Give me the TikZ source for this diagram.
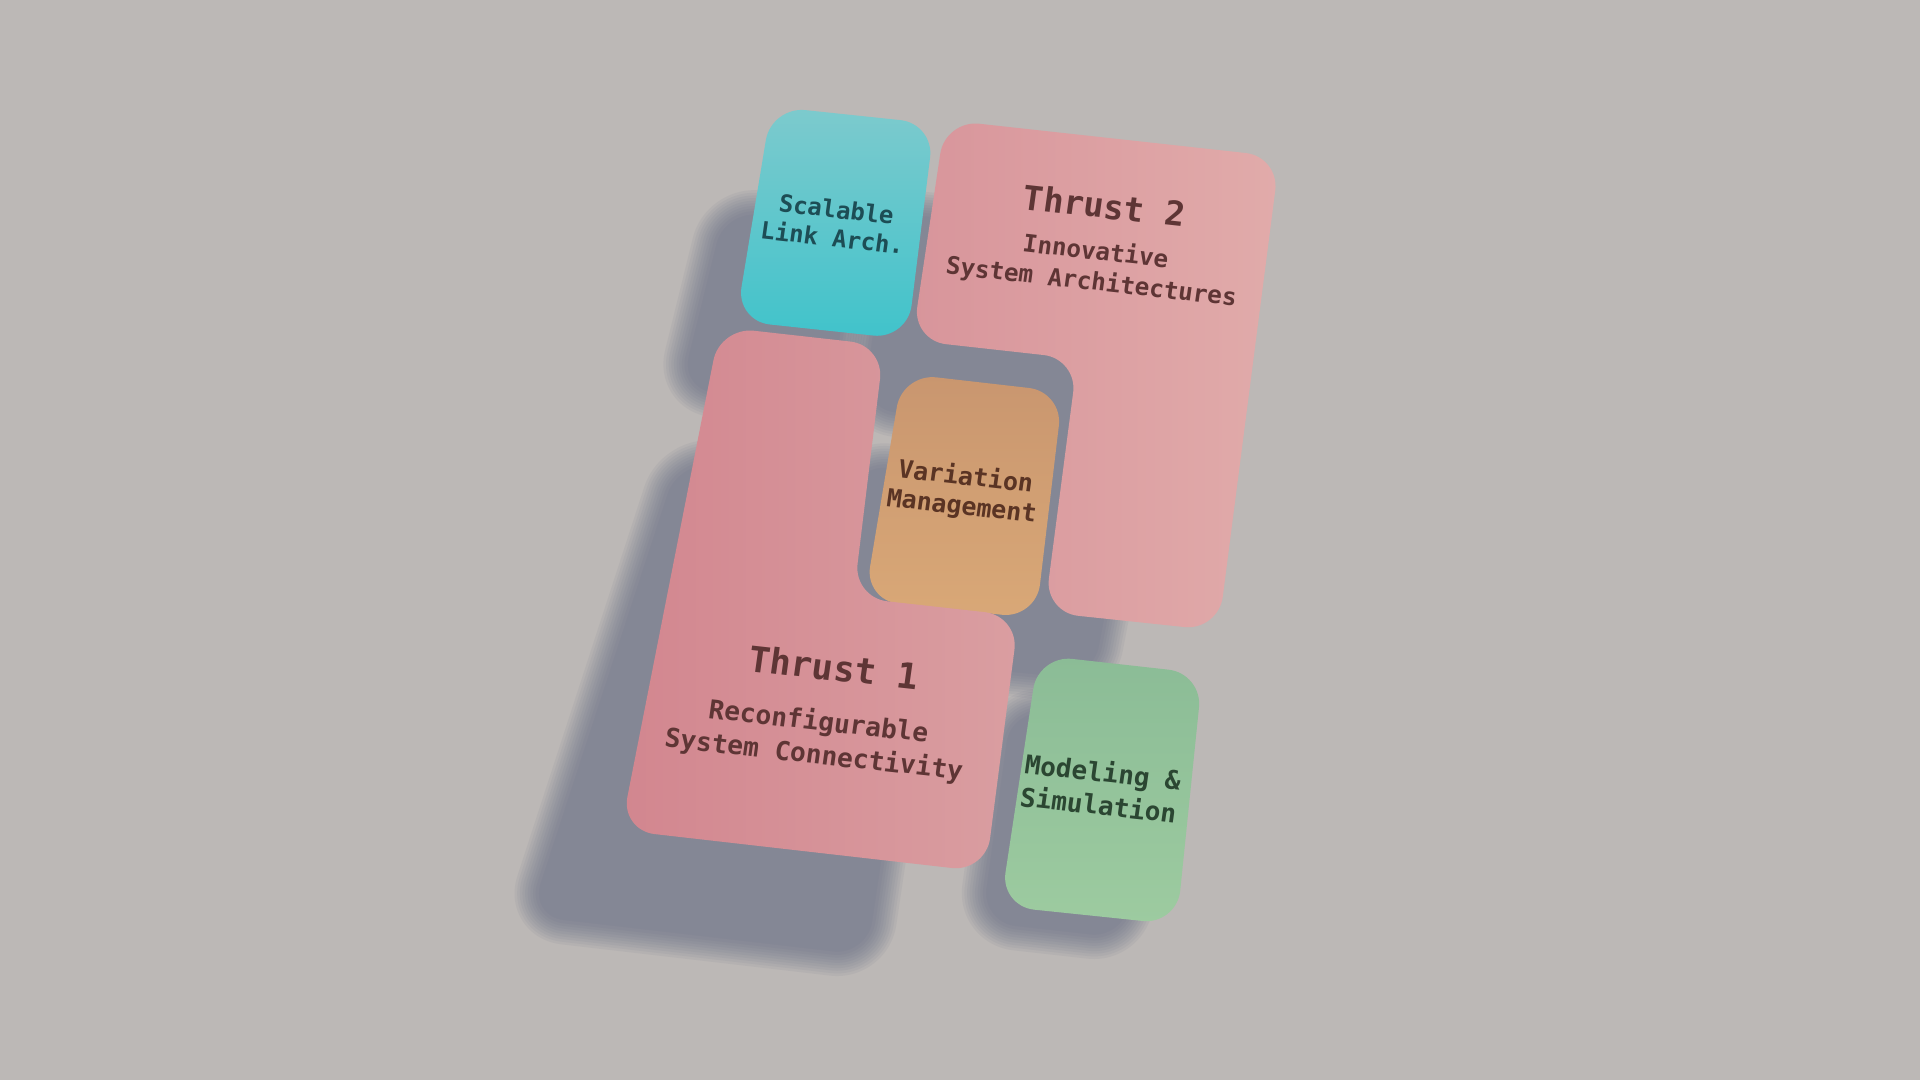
\documentclass[tikz,border=0pt]{standalone}
\usepackage{fontspec}
\newfontfamily\tilefont{DejaVu Sans Mono}
\definecolor{bg}{HTML}{BCB8B6}
\definecolor{sh}{HTML}{5F6680}
\definecolor{pinkA}{HTML}{D2868F}
\definecolor{pinkB}{HTML}{DA9EA1}
\definecolor{pinkC}{HTML}{D8959B}
\definecolor{pinkD}{HTML}{E1ABAA}
\definecolor{cyanA}{HTML}{7DCACD}
\definecolor{cyanB}{HTML}{40C3CB}
\definecolor{orA}{HTML}{C9966F}
\definecolor{orB}{HTML}{D9A877}
\definecolor{grA}{HTML}{8BBC96}
\definecolor{grB}{HTML}{9DCBA0}
\definecolor{pinktext}{HTML}{5E3535}
\definecolor{cyantext}{HTML}{1D4D55}
\definecolor{ortext}{HTML}{5A3424}
\definecolor{grtext}{HTML}{2B4632}
\newcommand\softshadow[1]{%
  \foreach \w in {14,12.5,11,9.5,8,6.5,5,3.5,2,0.1}{%
    \begin{scope}[transparency group, opacity=0.079]
      \path[fill=sh, draw=sh, line width=\w pt, line join=round, rounded corners=0.34cm] #1;
    \end{scope}}}
\tikzset{
  tile/.style={rounded corners=0.34cm},
  lbl/.style={inner sep=0pt, align=center},
  tilt/.style={cm={0.994,-0.110,0.139,0.990,(0,0)}, transform shape},
}
\begin{document}
\begin{tikzpicture}[x=0.012245cm, y=-0.012245cm]
\useasboundingbox (0,0) rectangle (1568,882);
\fill[bg] (0,0) rectangle (1568,882);
% shadows
\softshadow{(554,377) -- (688,390) -- (666,580) -- (736,592) -- (708,780) -- (433,748) -- cycle}
\softshadow{(592,172) -- (698,186) -- (678,330) -- (556,318) -- cycle}
\softshadow{(728,174) -- (960,198) -- (892,555) -- (790,545) -- (818,345) -- (704,334) -- cycle}
\softshadow{(698,379) -- (806,392) -- (786,551) -- (670,538) -- cycle}
\softshadow{(826,579) -- (941,594) -- (918,766) -- (802,753) -- cycle}
% Thrust 2
\shade[tile, left color=pinkC, right color=pinkD]
  (772,98) -- (1045,128) -- (995,515) -- (853,500) -- (880,293) -- (745,278) -- cycle;
% Variation management
\shade[tile, top color=orA, bottom color=orB]
  (737,305) -- (868,320) -- (846,505) -- (706,490) -- cycle;
% Thrust 1
\shade[tile, left color=pinkA, right color=pinkB]
  (588,267) -- (722,282) -- (697,488) -- (832,503) -- (805,712) -- (507,678) -- cycle;
% Scalable link
\shade[tile, top color=cyanA, bottom color=cyanB]
  (630,87) -- (763,101) -- (741,277) -- (601,262) -- cycle;
% Modeling
\shade[tile, top color=grA, bottom color=grB]
  (848,535) -- (982,550) -- (961,755) -- (817,740) -- cycle;
% texts
\begin{scope}[shift={(902,168)}, tilt]
  \node[lbl, text=pinktext, font=\tilefont\bfseries\fontsize{9.6}{11}\selectfont] (t2title) {Thrust 2};
\end{scope}
\begin{scope}[shift={(893,218.5)}, tilt]
  \node[lbl, text=pinktext, font=\tilefont\bfseries\fontsize{6.9}{8.7}\selectfont] (t2sub) {Innovative\\System Architectures};
\end{scope}
\begin{scope}[shift={(681.5,182.5)}, tilt]
  \node[lbl, text=cyantext, font=\tilefont\bfseries\fontsize{6.8}{8.2}\selectfont] (scal) {Scalable\\Link Arch.};
\end{scope}
\begin{scope}[shift={(787,402)}, tilt]
  \node[lbl, text=ortext, font=\tilefont\bfseries\fontsize{7.1}{8.4}\selectfont] (var) {Variation\\Management};
\end{scope}
\begin{scope}[shift={(681,545)}, tilt]
  \node[lbl, text=pinktext, font=\tilefont\bfseries\fontsize{10.1}{12}\selectfont] (t1title) {Thrust 1};
\end{scope}
\begin{scope}[shift={(666.5,603.5)}, tilt]
  \node[lbl, text=pinktext, font=\tilefont\bfseries\fontsize{7.45}{9.5}\selectfont] (t1sub) {Reconfigurable\\System Connectivity};
\end{scope}
\begin{scope}[shift={(899,643.5)}, tilt]
  \node[lbl, text=grtext, font=\tilefont\bfseries\fontsize{7.4}{9.4}\selectfont] (model) {Modeling \&\\Simulation};
\end{scope}
\end{tikzpicture}
\end{document}
